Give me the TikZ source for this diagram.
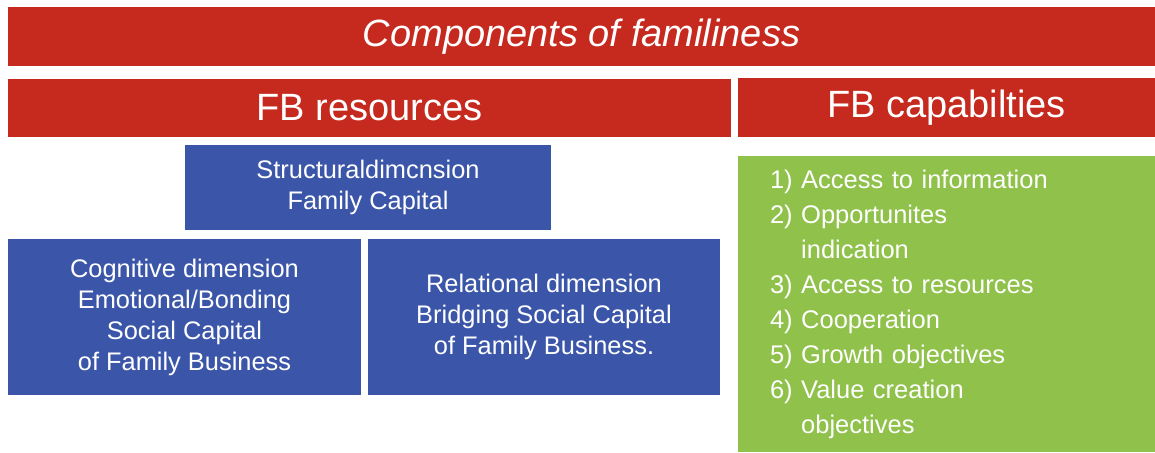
\documentclass[tikz,border=0pt]{standalone}
\usepackage{fontspec}
\setmainfont{Liberation Sans}
\definecolor{fbred}{HTML}{C6291D}
\definecolor{fbblue}{HTML}{3B56A9}
\definecolor{fbgreen}{HTML}{8FC14B}
\tikzset{
  bar/.style={fill=fbred, text=white, inner sep=0pt, font=\fontsize{38}{44}\selectfont},
  dimbox/.style={fill=fbblue, text=white, inner sep=0pt, align=center, font=\fontsize{25.4}{31}\selectfont},
  caplist/.style={fill=fbgreen, text=white, inner xsep=32pt, inner ysep=0pt, align=left, font=\fontsize{25.5}{35}\selectfont}
}
\begin{document}
\begin{tikzpicture}[x=1pt,y=-1pt]
  \useasboundingbox (0,0) rectangle (1155,452);
  % headers
  \node[bar, minimum width=1147pt, minimum height=59pt] at (581.5,36.5) (title) { \itshape Components of familiness };
  \node[bar, minimum width=723pt, minimum height=58pt] at (369.5,108) (res) { FB resources };
  \node[bar, minimum width=417pt, minimum height=59pt] at (946.5,107.5) (cap) { FB capabilties };
  % resources
  \node[dimbox, minimum width=366pt, minimum height=85pt] at (368,187.5) (struct) { Structuraldimcnsion\\Family Capital };
  \node[dimbox, minimum width=353pt, minimum height=156pt] at (184.5,317) (cogn) { Cognitive dimension\\Emotional/Bonding\\Social Capital\\of Family Business };
  \node[dimbox, minimum width=352pt, minimum height=156pt] at (544,317) (rel) { Relational dimension\\Bridging Social Capital\\of Family Business. };
  % capabilities
  \node[caplist, text width=353pt, minimum height=296pt] at (946.5,304) (capl) {
    1)~Access to information\\
    2)~Opportunites\\
    \phantom{2)~}indication\\
    3)~Access to resources\\
    4)~Cooperation\\
    5)~Growth objectives\\
    6)~Value creation\\
    \phantom{6)~}objectives };
\end{tikzpicture}
\end{document}
